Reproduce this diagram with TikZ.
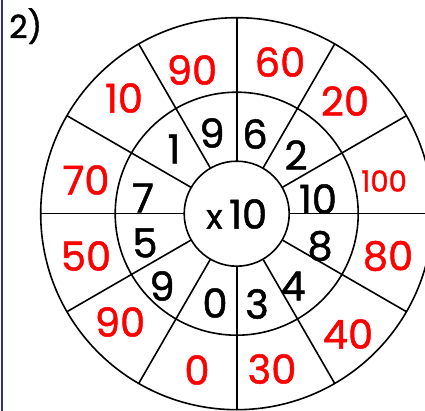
\documentclass[tikz,border=0pt]{standalone}
\usepackage{fontspec}
\setmainfont{Poppins}[AutoFakeBold=1.2]
\usetikzlibrary{calc}
\definecolor{edgeblue}{HTML}{2B2F9A}
\definecolor{ansred}{HTML}{FF0000}
\begin{document}
\begin{tikzpicture}[x=1pt,y=-1pt,
  ring/.style={line width=1.6pt},
  qnum/.style={font=\fontsize{40}{42}\selectfont\bfseries, text=black, inner sep=0pt},
  anum/.style={font=\fontsize{40}{42}\selectfont\bfseries, text=ansred, inner sep=0pt},
  snum/.style={font=\fontsize{29}{31}\selectfont\bfseries, text=ansred, inner sep=0pt}]
\useasboundingbox (0,0) rectangle (425,411);
\begin{scope}
\clip (0,0) rectangle (425,411);
\coordinate (c) at (236.7,213.7);
\foreach \a in {0,30,...,330}{
  \draw[ring] ($(c)+(\a:52.5pt)$) -- ($(c)+(\a:196pt)$);
}
\draw[ring] (c) circle[radius=196pt];
\draw[ring] (c) circle[radius=121.5pt];
\draw[ring,fill=white] (c) circle[radius=52.5pt];
\end{scope}
\draw[edgeblue,line width=2pt] (2,0) -- (2,411);
\node[qnum,font=\fontsize{32}{34}\selectfont\bfseries,anchor=north west] (lab) at (9,8) {2)};
\node[qnum] (ctr) at (236.7,214) {{\fontsize{34}{36}\selectfont x}\,10};
% inner ring
\node[qnum] (i1) at (255,134) {6};
\node[qnum] (i2) at (296,155) {2};
\node[qnum] (i3) at (318,199) {10};
\node[qnum] (i4) at (320,246) {8};
\node[qnum] (i5) at (293,286) {4};
\node[qnum] (i6) at (257,304) {3};
\node[qnum] (i7) at (215,303) {0};
\node[qnum] (i8) at (162,286) {9};
\node[qnum] (i9) at (145,243) {5};
\node[qnum] (i10) at (143,198) {7};
\node[qnum] (i11) at (174,149) {1};
\node[qnum] (i12) at (212,133) {9};
% outer ring
\node[anum] (o1) at (280,62) {60};
\node[anum] (o2) at (345,101) {20};
\node[snum] (o3) at (384,181) {100};
\node[anum] (o4) at (388,256) {80};
\node[anum] (o5) at (348,334) {40};
\node[anum] (o6) at (272,369) {30};
\node[anum] (o7) at (197,370) {0};
\node[anum] (o8) at (120,322) {90};
\node[anum] (o9) at (86,256) {50};
\node[anum] (o10) at (86,180) {70};
\node[anum] (o11) at (124,98) {10};
\node[anum] (o12) at (192,70) {90};
\end{tikzpicture}
\end{document}
